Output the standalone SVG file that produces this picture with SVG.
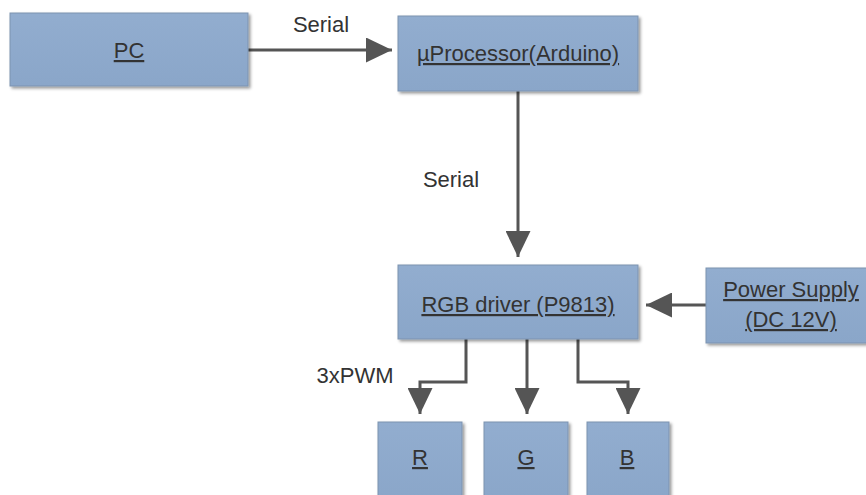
<svg xmlns="http://www.w3.org/2000/svg" width="866" height="495" viewBox="0 0 866 495">
<style>
.box{fill:url(#g);stroke:#7d93b0;stroke-width:1;filter:url(#sh)}
.lbl{font-family:"Liberation Sans",Arial,sans-serif;font-size:22px;fill:#333;text-anchor:middle;text-decoration:underline}
.edge{font-family:"Liberation Sans",Arial,sans-serif;font-size:22px;fill:#333;text-anchor:middle}
.ln{fill:none;stroke:#555;stroke-width:3}
</style>
<defs>
<linearGradient id="g" x1="0" y1="0" x2="0" y2="1">
<stop offset="0" stop-color="#92adcf"/>
<stop offset="1" stop-color="#8aa6c9"/>
</linearGradient>
<filter id="sh" x="-10%" y="-10%" width="130%" height="140%">
<feDropShadow dx="2" dy="2" stdDeviation="1.5" flood-color="#000" flood-opacity="0.4"/>
</filter>
<marker id="a" markerUnits="userSpaceOnUse" markerWidth="27" markerHeight="25" refX="26" refY="12.5" orient="auto">
<path d="M0,0 L26,12.5 L0,25 z" fill="#555"/>
</marker>
</defs>
<rect width="866" height="495" fill="#fff"/>
<g id="connectors">
<path class="ln" d="M248,50 H392" marker-end="url(#a)"/>
<path class="ln" d="M518,91 V257" marker-end="url(#a)"/>
<path class="ln" d="M706,305 H646" marker-end="url(#a)"/>
<path class="ln" d="M466,339 V382 H420 V414" marker-end="url(#a)"/>
<path class="ln" d="M527,339 V414" marker-end="url(#a)"/>
<path class="ln" d="M578,339 V382 H628 V414" marker-end="url(#a)"/>
<text class="edge" x="321" y="32">Serial</text>
<text class="edge" x="451" y="187">Serial</text>
<text class="edge" x="355" y="383">3xPWM</text>
</g>
<g id="pc"><rect class="box" x="10" y="13" width="238" height="73"/><text class="lbl" x="129" y="58">PC</text></g>
<g id="uproc"><rect class="box" x="398" y="16" width="240" height="75"/><text class="lbl" x="518" y="61">µProcessor(Arduino)</text></g>
<g id="rgb"><rect class="box" x="398" y="265" width="240" height="74"/><text class="lbl" x="518" y="312">RGB driver (P9813)</text></g>
<g id="power"><rect class="box" x="706" y="268" width="170" height="75"/><text class="lbl" x="791" y="297">Power Supply</text><text class="lbl" x="791" y="327">(DC 12V)</text></g>
<g id="r"><rect class="box" x="378" y="422" width="84" height="80"/><text class="lbl" x="420" y="465">R</text></g>
<g id="gnode"><rect class="box" x="484" y="422" width="84" height="80"/><text class="lbl" x="526" y="465">G</text></g>
<g id="b"><rect class="box" x="587" y="422" width="82" height="80"/><text class="lbl" x="627" y="465">B</text></g>
</svg>
